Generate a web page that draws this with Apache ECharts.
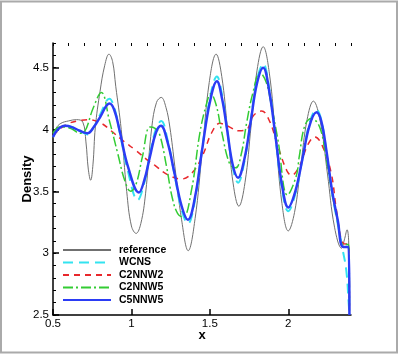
<!DOCTYPE html>
<html>
<head>
<meta charset="utf-8">
<script src="https://cdn.jsdelivr.net/npm/echarts@6/dist/echarts.min.js"></script>
<style>
  html, body { margin: 0; padding: 0; background: #fff; }
  #chart { width: 399px; height: 355px; }
</style>
</head>
<body>
<div id="chart"></div>
<script>
// tick labels
const xTicks = [0.5, 1, 1.5, 2];
const yTicks = [2.5, 3, 3.5, 4, 4.5];
const seriesNames = ['reference', 'WCNS', 'C2NNW2', 'C2NNW5', 'C5NNW5'];

// density profiles, [x, density]
const reference = [[0.5,3.93],[0.52,4.01],[0.55,4.05],[0.6,4.07],[0.65,4.08],[0.69,4.06],[0.71,3.9],[0.725,3.68],[0.74,3.59],[0.755,3.72],[0.77,4.02],[0.8,4.31],[0.83,4.52],[0.857,4.61],[0.88,4.55],[0.9,4.35],[0.935,4.0],[0.97,3.5],[1.0,3.22],[1.03,3.16],[1.06,3.24],[1.09,3.48],[1.13,4.02],[1.16,4.22],[1.19,4.26],[1.22,4.18],[1.245,4.02],[1.277,3.7],[1.32,3.27],[1.362,3.02],[1.406,3.28],[1.451,3.82],[1.496,4.38],[1.54,4.61],[1.576,4.43],[1.613,4.0],[1.649,3.56],[1.685,3.38],[1.724,3.57],[1.763,4.03],[1.801,4.48],[1.84,4.67],[1.88,4.45],[1.92,3.93],[1.96,3.4],[2.0,3.18],[2.04,3.33],[2.08,3.71],[2.12,4.08],[2.16,4.23],[2.205,4.06],[2.25,3.64],[2.295,3.21],[2.34,3.04],[2.36,3.12],[2.375,3.19],[2.385,3.1],[2.388,2.8],[2.39,2.5]];
const wcns = [[0.5,3.94],[0.53,4.0],[0.576,4.03],[0.62,4.02],[0.67,3.99],[0.72,3.96],[0.76,4.02],[0.8,4.12],[0.86,4.25],[0.89,4.18],[0.925,3.98],[0.978,3.66],[1.04,3.43],[1.08,3.56],[1.118,3.8],[1.155,4.0],[1.19,4.07],[1.23,3.92],[1.274,3.64],[1.32,3.35],[1.36,3.24],[1.405,3.43],[1.45,3.84],[1.5,4.25],[1.545,4.43],[1.578,4.28],[1.61,4.0],[1.645,3.7],[1.68,3.57],[1.72,3.74],[1.76,4.07],[1.8,4.4],[1.84,4.53],[1.88,4.32],[1.92,3.92],[1.96,3.52],[2.0,3.34],[2.045,3.48],[2.09,3.76],[2.135,4.05],[2.18,4.16],[2.21,4.08],[2.243,3.82],[2.28,3.48],[2.315,3.24],[2.345,3.04],[2.37,2.86],[2.385,2.6],[2.39,2.5]];
const c2nnw2 = [[0.5,3.95],[0.55,4.01],[0.6,4.05],[0.66,4.07],[0.72,4.08],[0.808,4.05],[0.87,3.99],[0.946,3.91],[1.03,3.83],[1.105,3.75],[1.15,3.71],[1.224,3.64],[1.32,3.6],[1.394,3.66],[1.457,3.8],[1.51,3.97],[1.564,4.05],[1.627,4.02],[1.68,3.99],[1.734,4.0],[1.776,4.11],[1.83,4.15],[1.88,4.07],[1.935,3.86],[1.99,3.67],[2.02,3.63],[2.07,3.7],[2.126,3.88],[2.17,3.94],[2.22,3.86],[2.275,3.64],[2.307,3.35],[2.35,3.08],[2.385,3.07],[2.39,2.5]];
const c2nnw5 = [[0.5,3.97],[0.54,4.02],[0.58,4.02],[0.627,4.0],[0.67,3.97],[0.7,3.98],[0.755,4.17],[0.808,4.3],[0.86,4.07],[0.914,3.8],[0.957,3.59],[0.995,3.5],[1.03,3.56],[1.07,3.78],[1.118,4.02],[1.15,4.01],[1.18,3.96],[1.224,3.7],[1.26,3.45],[1.295,3.32],[1.33,3.29],[1.383,3.51],[1.436,3.97],[1.479,4.21],[1.506,4.29],[1.54,4.2],[1.574,3.99],[1.627,3.72],[1.665,3.69],[1.7,3.8],[1.734,4.05],[1.775,4.3],[1.82,4.46],[1.86,4.38],[1.89,4.21],[1.935,3.91],[1.995,3.47],[2.05,3.62],[2.07,3.78],[2.105,4.03],[2.148,4.09],[2.2,4.02],[2.24,3.78],[2.28,3.48],[2.315,3.26],[2.35,3.07],[2.385,3.07],[2.39,2.5]];
const c5nnw5 = [[0.5,3.94],[0.53,4.0],[0.576,4.03],[0.62,4.02],[0.67,3.99],[0.72,3.97],[0.76,4.02],[0.8,4.1],[0.86,4.21],[0.89,4.16],[0.925,3.99],[0.978,3.7],[1.048,3.49],[1.08,3.58],[1.118,3.78],[1.155,3.97],[1.188,4.03],[1.23,3.9],[1.274,3.65],[1.32,3.38],[1.36,3.27],[1.405,3.45],[1.45,3.83],[1.5,4.22],[1.545,4.39],[1.578,4.25],[1.61,4.0],[1.645,3.72],[1.68,3.61],[1.72,3.76],[1.76,4.06],[1.8,4.37],[1.84,4.5],[1.88,4.3],[1.92,3.93],[1.96,3.55],[2.0,3.37],[2.045,3.5],[2.09,3.76],[2.135,4.03],[2.18,4.14],[2.21,4.07],[2.243,3.83],[2.28,3.5],[2.315,3.27],[2.35,3.05],[2.385,3.05],[2.39,2.5]];

const chart = echarts.init(document.getElementById('chart'), null, { renderer: 'canvas' });
const font = 'Liberation Sans, Arial, sans-serif';

// one line series, styles per curve
function curve(name, data, color, width, type) {
  return {
    name: name,
    type: 'line',
    data: data,
    symbol: 'none',
    smooth: 0.4,
    lineStyle: { color: color, width: width, type: type },
    itemStyle: { color: color },
    emphasis: { disabled: true },
    animation: false
  };
}

const option = {
  animation: false,
  grid: { left: 53, top: 43, right: 48, bottom: 40 },
  xAxis: [
    {
      type: 'value', min: 0.5, max: 2.4, interval: 0.5,
      axisLine: { onZero: false, lineStyle: { color: '#000', width: 1.5 } },
      axisTick: { inside: true, length: 6, customValues: xTicks, lineStyle: { color: '#000', width: 1.5 } },
      axisLabel: { customValues: xTicks, margin: 3, fontSize: 11.5, color: '#000', fontFamily: font },
      splitLine: { show: false },
      name: 'x', nameLocation: 'middle', nameGap: 14, nameMoveOverlap: false,
      nameTextStyle: { fontSize: 13, fontWeight: 'bold', color: '#000', fontFamily: font }
    },
    {
      // minor ticks
      type: 'value', min: 0.5, max: 2.4, interval: 0.1,
      axisLine: { show: false, onZero: false },
      axisTick: { inside: true, length: 3, lineStyle: { color: '#000', width: 1 } },
      axisLabel: { show: false },
      splitLine: { show: false }
    }
  ],
  yAxis: [
    {
      type: 'value', min: 2.5, max: 4.7, interval: 0.5,
      axisLine: { show: true, onZero: false, lineStyle: { color: '#000', width: 1.5 } },
      axisTick: { show: true, inside: true, length: 6, customValues: yTicks, lineStyle: { color: '#000', width: 1.5 } },
      axisLabel: { customValues: yTicks, margin: 4, fontSize: 11.5, color: '#000', fontFamily: font },
      splitLine: { show: false },
      name: 'Density', nameLocation: 'middle', nameGap: 19, nameMoveOverlap: false,
      nameTextStyle: { fontSize: 13, fontWeight: 'bold', color: '#000', fontFamily: font }
    },
    {
      type: 'value', min: 2.5, max: 4.7, interval: 0.1, position: 'left',
      axisLine: { show: false, onZero: false },
      axisTick: { show: true, inside: true, length: 3, lineStyle: { color: '#000', width: 1 } },
      axisLabel: { show: false },
      splitLine: { show: false }
    }
  ],
  legend: {
    orient: 'vertical',
    left: 62, top: 244,
    padding: 0,
    itemWidth: 48, itemHeight: 4,
    itemGap: 0.5,
    selectedMode: false,
    data: seriesNames,
    itemStyle: { opacity: 0 },
    textStyle: { fontSize: 10.5, fontWeight: 'bold', color: '#000', fontFamily: font, lineHeight: 12, padding: [0, 0, 0, 3] }
  },
  graphic: [
    {
      type: 'rect', silent: true, z: -1,
      shape: { x: 1, y: 1.5, width: 396, height: 351 },
      style: { fill: 'none', stroke: '#aaaaaa', lineWidth: 2 }
    }
  ],
  series: [
    curve('reference', reference, '#707070', 1, 'solid'),
    curve('WCNS', wcns, '#33e3f0', 2, [10, 6]),
    curve('C2NNW2', c2nnw2, '#e8282c', 1.5, [6, 5]),
    curve('C2NNW5', c2nnw5, '#33cc33', 1.5, [10, 3, 2, 3]),
    curve('C5NNW5', c5nnw5, '#2b3cf5', 2.5, 'solid')
  ]
};

chart.setOption(option);
window.addEventListener('resize', () => {
  chart.resize()
})
</script>
</body>
</html>
